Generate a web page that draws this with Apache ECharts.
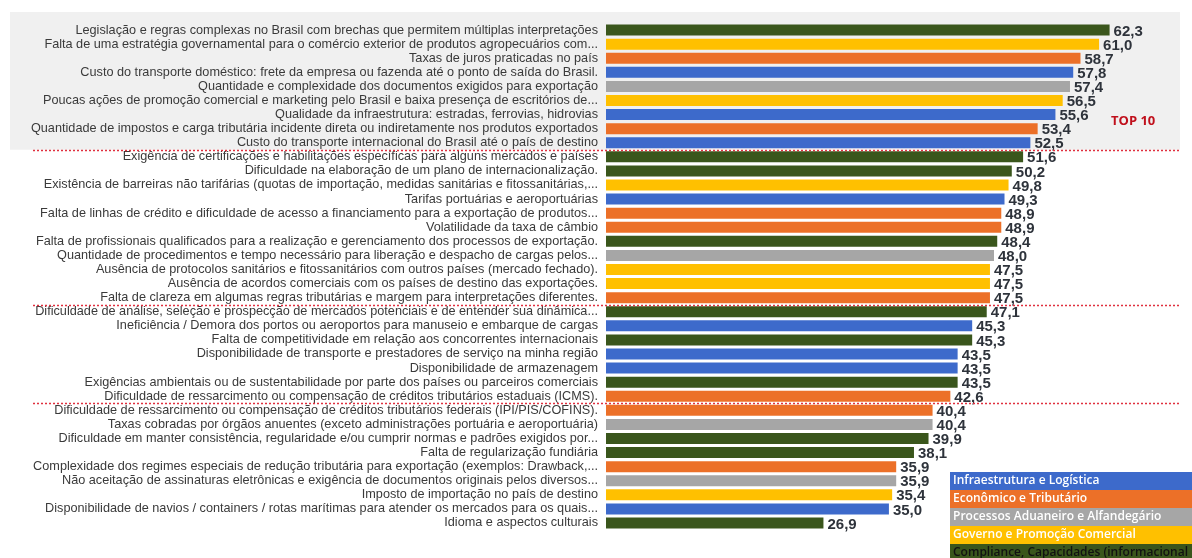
<!DOCTYPE html>
<html>
<head>
<meta charset="utf-8">
<script src="https://cdn.jsdelivr.net/npm/echarts@6/dist/echarts.min.js"></script>
<style>
  html, body { margin: 0; padding: 0; background: #ffffff; }
  #chart { width: 1192px; height: 558px; }
</style>
</head>
<body>
<div id="chart"></div>
<script>
// Barriers to exporting, ranked by score (top to bottom)
const categories = [
  'Legislação e regras complexas no Brasil com brechas que permitem múltiplas interpretações',
  'Falta de uma estratégia governamental para o comércio exterior de produtos agropecuários com...',
  'Taxas de juros praticadas no país',
  'Custo do transporte doméstico: frete da empresa ou fazenda até o ponto de saída do Brasil.',
  'Quantidade e complexidade dos documentos exigidos para exportação',
  'Poucas ações de promoção comercial e marketing pelo Brasil e baixa presença de escritórios de...',
  'Qualidade da infraestrutura: estradas, ferrovias, hidrovias',
  'Quantidade de impostos e carga tributária incidente direta ou indiretamente nos produtos exportados',
  'Custo do transporte internacional do Brasil até o país de destino',
  'Exigência de certificações e habilitações específicas para alguns mercados e países',
  'Dificuldade na elaboração de um plano de internacionalização.',
  'Existência de barreiras não tarifárias (quotas de importação, medidas sanitárias e fitossanitárias,...',
  'Tarifas portuárias e aeroportuárias',
  'Falta de linhas de crédito e dificuldade de acesso a financiamento para a exportação de produtos...',
  'Volatilidade da taxa de câmbio',
  'Falta de profissionais qualificados para a realização e gerenciamento dos processos de exportação.',
  'Quantidade de procedimentos e tempo necessário para liberação e despacho de cargas pelos...',
  'Ausência de protocolos sanitários e fitossanitários com outros países (mercado fechado).',
  'Ausência de acordos comerciais com os países de destino das exportações.',
  'Falta de clareza em algumas regras tributárias e margem para interpretações diferentes.',
  'Dificuldade de análise, seleção e prospecção de mercados potenciais e de entender sua dinâmica...',
  'Ineficiência / Demora dos portos ou aeroportos para manuseio e embarque de cargas',
  'Falta de competitividade em relação aos concorrentes internacionais',
  'Disponibilidade de transporte e prestadores de serviço na minha região',
  'Disponibilidade de armazenagem',
  'Exigências ambientais ou de sustentabilidade por parte dos países ou parceiros comerciais',
  'Dificuldade de ressarcimento ou compensação de créditos tributários estaduais (ICMS).',
  'Dificuldade de ressarcimento ou compensação de créditos tributários federais (IPI/PIS/COFINS).',
  'Taxas cobradas por órgãos anuentes (exceto administrações portuária e aeroportuária)',
  'Dificuldade em manter consistência, regularidade e/ou cumprir normas e padrões exigidos por...',
  'Falta de regularização fundiária',
  'Complexidade dos regimes especiais de redução tributária para exportação (exemplos: Drawback,...',
  'Não aceitação de assinaturas eletrônicas e exigência de documentos originais pelos diversos...',
  'Imposto de importação no país de destino',
  'Disponibilidade de navios / containers / rotas marítimas para atender os mercados para os quais...',
  'Idioma e aspectos culturais'
];

const scores = [
  62.3, 61.0, 58.7, 57.8, 57.4, 56.5, 55.6, 53.4, 52.5,
  51.6, 50.2, 49.8, 49.3, 48.9, 48.9, 48.4, 48.0, 47.5, 47.5, 47.5,
  47.1, 45.3, 45.3, 43.5, 43.5, 43.5, 42.6,
  40.4, 40.4, 39.9, 38.1, 35.9, 35.9, 35.4, 35.0, 26.9
];

// Theme of each barrier (key into groupNames / groupColors)
const groups = [
  'comp', 'gov', 'eco', 'infra', 'proc', 'gov', 'infra', 'eco', 'infra',
  'comp', 'comp', 'gov', 'infra', 'eco', 'eco', 'comp', 'proc', 'gov', 'gov', 'eco',
  'comp', 'infra', 'comp', 'infra', 'infra', 'comp', 'eco',
  'eco', 'proc', 'comp', 'comp', 'eco', 'proc', 'gov', 'infra', 'comp'
];

const groupKeys = ['infra', 'eco', 'proc', 'gov', 'comp'];
const groupNames = {
  infra: 'Infraestrutura e Logística',
  eco: 'Econômico e Tributário',
  proc: 'Processos Aduaneiro e Alfandegário',
  gov: 'Governo e Promoção Comercial',
  comp: 'Compliance, Capacidades (informacional'
};
const groupColors = {
  infra: '#3d6acb',
  eco: '#ec7028',
  proc: '#a6a6a6',
  gov: '#ffc000',
  comp: '#3a561c'
};

// Rows after which a dotted separator is drawn (tiers of the ranking)
const tierBreaks = [9, 20, 27];
const topLabel = 'TOP 10';

const chart = echarts.init(document.getElementById('chart'), null, { renderer: 'canvas' });

const fmt = v => v.toFixed(1).replace('.', ',');

chart.setOption({
  animation: false,
  backgroundColor: '#ffffff',
  grid: { left: 606, right: 4, top: 23, bottom: 28, containLabel: false },
  xAxis: {
    type: 'value', min: 0, max: 72,
    show: false
  },
  yAxis: {
    type: 'category',
    inverse: true,
    data: categories,
    axisLine: { show: false },
    axisTick: { show: false },
    axisLabel: {
      interval: 0,
      margin: 8,
      color: '#3a3a3a',
      fontFamily: 'Liberation Sans, Arial, sans-serif',
      fontSize: 12.7
    }
  },
  series: [{
    type: 'bar',
    barWidth: 11,
    data: scores.map((v, i) => ({
      value: v,
      itemStyle: { color: groupColors[groups[i]] }
    })),
    label: {
      show: true,
      position: 'right',
      distance: 4,
      offset: [0, 1.5],
      formatter: p => fmt(p.value),
      color: '#2e333b',
      fontFamily: 'Liberation Sans, Arial, sans-serif',
      fontWeight: 'bold',
      fontSize: 15
    }
  }]
});

// Decorations placed from the axis scale
function decorate() {
  const yOf = i => chart.convertToPixel({ gridIndex: 0 }, [0, i])[1];
  const between = k => (yOf(k - 1) + yOf(k)) / 2;
  const els = [];

  // light panel behind the top tier
  const topEdge = yOf(0) - (yOf(1) - yOf(0)) / 2 - 11;
  els.push({
    type: 'rect', z: -10, silent: true,
    shape: { x: 10, y: topEdge, width: 1170, height: between(tierBreaks[0]) - topEdge },
    style: { fill: '#f0f0f0' }
  });

  tierBreaks.forEach(k => {
    const y = Math.round(between(k)) + 0.5;
    els.push({
      type: 'line', z: 50, silent: true,
      shape: { x1: 33, y1: y, x2: 1180, y2: y },
      style: { stroke: '#e0303f', lineWidth: 1.3, lineDash: [2, 2] }
    });
  });

  els.push({
    type: 'text', z: 60,
    x: 1111, y: yOf(6) + 7,
    style: {
      text: topLabel, fill: '#c0101c',
      font: 'bold 13px "Open Sans", Arial, sans-serif',
      verticalAlign: 'middle'
    }
  });

  // category key, bottom right
  groupKeys.forEach((g, i) => {
    els.push({
      type: 'rect', z: 60,
      shape: { x: 950, y: 472 + i * 18, width: 242, height: 18 },
      style: { fill: groupColors[g] }
    });
    els.push({
      type: 'text', z: 61,
      x: 953, y: 481 + i * 18,
      style: {
        text: groupNames[g],
        fill: g === 'comp' ? '#111111' : '#ffffff',
        font: '600 12px "Open Sans", sans-serif',
        verticalAlign: 'middle'
      }
    });
  });

  chart.setOption({ graphic: { elements: els } });
}
decorate();
</script>
</body>
</html>
